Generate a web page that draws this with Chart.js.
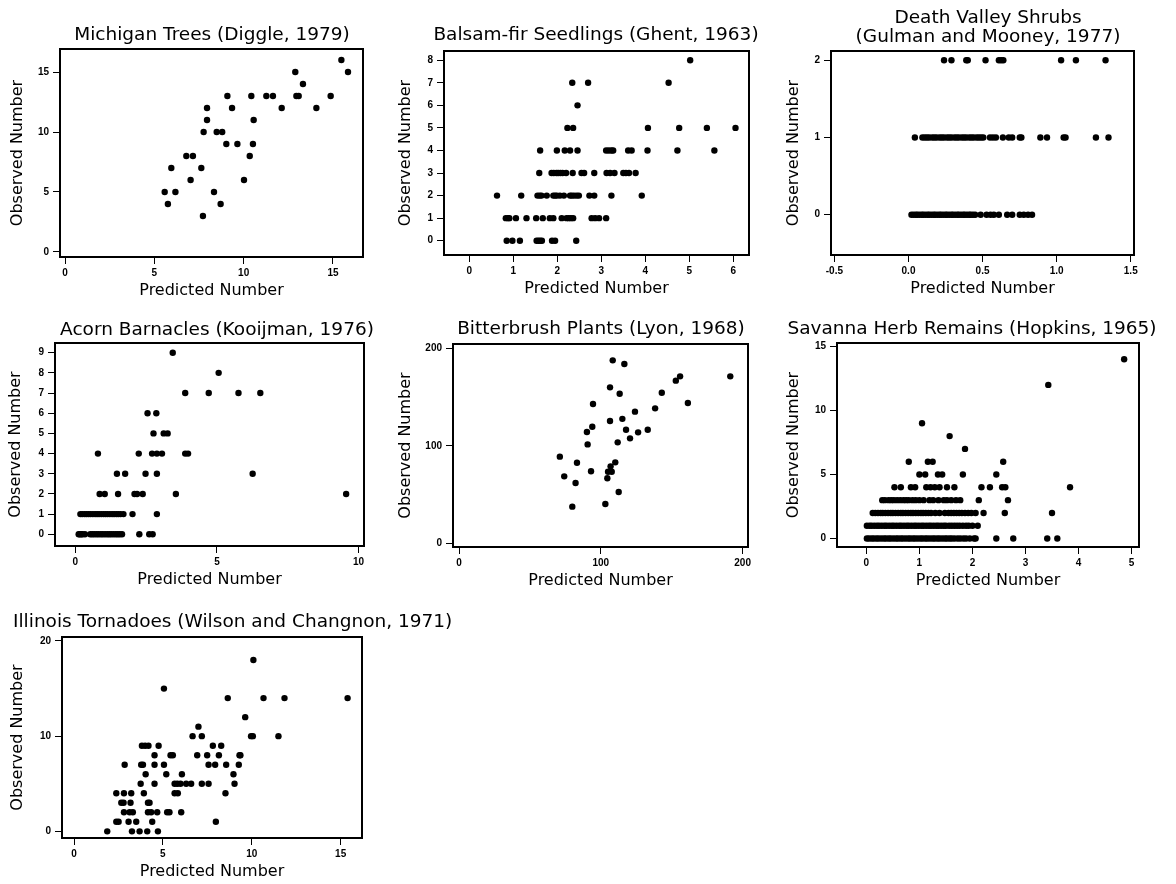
<!DOCTYPE html>
<html>
<head>
<meta charset="utf-8">
<script src="https://cdn.jsdelivr.net/npm/chart.js@4.4.1/dist/chart.umd.min.js"></script>
<style>
  html, body { margin:0; padding:0; background:#fff; width:1176px; height:884px; overflow:hidden; position:relative; }
  canvas { position:absolute; }
</style>
</head>
<body>
<script>
/* ---------- data ---------- */

// Michigan Trees: observed levels and predicted values at each level
const michiganObs = [3, 4, 5, 6, 7, 8, 9, 10, 11, 12, 13, 14, 15, 16];
const michiganPred = [
  [7.72], [5.76, 8.71], [5.58, 6.18, 8.34], [7.03, 10.02], [5.95, 7.63],
  [6.79, 7.16, 10.34], [9.03, 9.65, 10.52], [7.76, 8.49, 8.8], [7.95, 10.56],
  [7.95, 9.35, 12.13, 14.07], [9.09, 10.43, 11.27, 11.64, 12.95, 13.08, 14.87],
  [13.32], [12.89, 15.84], [15.47]
];
const michiganXTicks = [0, 5, 10, 15];
const michiganYTicks = [0, 5, 10, 15];

// Balsam-fir Seedlings
const balsamObs = [0, 1, 2, 3, 4, 5, 6, 7, 8];
const balsamPred = [
  [0.85, 0.98, 1.15, 1.53, 1.57, 1.61, 1.65, 1.88, 1.95, 2.43],
  [0.83, 0.88, 0.91, 1.06, 1.30, 1.52, 1.67, 1.83, 1.91, 2.1, 2.21, 2.26, 2.31, 2.36, 2.78, 2.86, 2.95, 3.11],
  [0.63, 1.18, 1.55, 1.6, 1.64, 1.76, 1.91, 1.95, 1.99, 2.06, 2.15, 2.29, 2.33, 2.38, 2.44, 2.49, 2.73, 2.84, 3.23, 3.92],
  [1.59, 1.87, 1.92, 1.98, 2.02, 2.07, 2.12, 2.2, 2.35, 2.55, 2.61, 2.84, 3.12, 3.2, 3.3, 3.5, 3.56, 3.63, 3.78],
  [1.61, 1.99, 2.17, 2.29, 2.46, 3.11, 3.17, 3.23, 3.27, 3.61, 3.69, 4.05, 4.73, 5.57],
  [2.23, 2.36, 4.06, 4.77, 5.40, 6.05],
  [2.46],
  [2.34, 2.70, 4.53],
  [5.02]
];
const balsamXTicks = [0, 1, 2, 3, 4, 5, 6];
const balsamYTicks = [0, 1, 2, 3, 4, 5, 6, 7, 8];

// Death Valley Shrubs
const shrubsObs = [0, 1, 2];
const shrubsPred = [
  [0.02, 0.035, 0.05, 0.06, 0.075, 0.09, 0.1, 0.115, 0.13, 0.14, 0.155, 0.17, 0.18, 0.195, 0.21, 0.22,
   0.235, 0.25, 0.26, 0.275, 0.29, 0.3, 0.315, 0.33, 0.34, 0.355, 0.37, 0.38, 0.395, 0.41, 0.42, 0.435,
   0.45, 0.487, 0.527, 0.554, 0.576, 0.61, 0.666, 0.70, 0.751, 0.778, 0.807, 0.834],
  [0.043, 0.094, 0.11, 0.125, 0.14, 0.16, 0.175, 0.19, 0.21, 0.225, 0.24, 0.26, 0.275, 0.29, 0.31, 0.325,
   0.34, 0.36, 0.375, 0.39, 0.41, 0.425, 0.44, 0.46, 0.475, 0.49, 0.505, 0.55, 0.57, 0.59, 0.637, 0.677,
   0.70, 0.751, 0.762, 0.89, 0.935, 1.047, 1.06, 1.265, 1.35],
  [0.24, 0.29, 0.39, 0.40, 0.52, 0.61, 0.625, 0.64, 1.03, 1.13, 1.33]
];
const shrubsXTicks = [-0.5, 0, 0.5, 1, 1.5];
const shrubsXLabels = ['-0.5', '0.0', '0.5', '1.0', '1.5'];
const shrubsYTicks = [0, 1, 2];

// Acorn Barnacles
const acornObs = [0, 1, 2, 3, 4, 5, 6, 7, 8, 9];
const acornPred = [
  [0.12, 0.16, 0.21, 0.25, 0.34, 0.53, 0.6, 0.67, 0.75, 0.82, 0.9, 0.97, 1.05, 1.13, 1.2, 1.27, 1.35, 1.43, 1.5, 1.57, 1.65, 2.26, 2.61, 2.73],
  [0.18, 0.25, 0.33, 0.4, 0.47, 0.54, 0.62, 0.7, 0.77, 0.84, 0.92, 1.0, 1.07, 1.14, 1.22, 1.3, 1.37, 1.45, 1.52, 1.6, 1.7, 2.02, 2.88],
  [0.86, 1.04, 1.51, 2.09, 2.18, 2.38, 3.55, 9.56],
  [1.47, 1.76, 2.48, 2.88, 6.26],
  [0.8, 2.24, 2.71, 2.88, 3.06, 3.88, 3.98],
  [2.76, 3.12, 3.26],
  [2.55, 2.86],
  [3.88, 4.71, 5.76, 6.53],
  [5.06],
  [3.44]
];
const acornXTicks = [0, 5, 10];
const acornYTicks = [0, 1, 2, 3, 4, 5, 6, 7, 8, 9];

// Bitterbrush Plants (not integer counts, so plain pairs)
const bitterPred = [71.1, 74.2, 79.9, 82.2, 83.2, 90.2, 90.7, 93.1, 94.0, 94.5, 103.2, 104.6, 105.1, 106.5, 106.5,
  106.9, 107.7, 108.4, 110.2, 111.9, 112.6, 113.3, 115.2, 116.6, 117.8, 120.6, 124.1, 126.3, 133.1, 138.3,
  143.0, 152.9, 155.9, 161.4, 191.3];
const bitterObs = [88.9, 68.6, 37.4, 61.7, 82.6, 114.2, 101.5, 73.8, 119.7, 143.1, 40.1, 66.6, 73.4, 160.2, 125.6,
  78.9, 73.4, 188.0, 83.0, 103.6, 52.5, 153.6, 127.8, 184.2, 116.6, 107.7, 135.2, 113.9, 116.6, 138.6,
  154.7, 167.1, 171.5, 144.1, 171.5];
const bitterXTicks = [0, 100, 200];
const bitterYTicks = [0, 100, 200];

// Savanna Herb Remains
const savannaObs = [0, 1, 2, 3, 4, 5, 6, 7, 8, 9, 12, 14];
const savannaPred = [
  [0.01, 0.05, 0.1, 0.14, 0.19, 0.23, 0.28, 0.33, 0.37, 0.42, 0.46, 0.51, 0.56, 0.6, 0.65, 0.69, 0.74, 0.79,
   0.83, 0.88, 0.92, 0.97, 1.02, 1.06, 1.11, 1.15, 1.2, 1.25, 1.29, 1.34, 1.38, 1.43, 1.48, 1.52, 1.57, 1.61,
   1.66, 1.72, 1.77, 1.83, 1.88, 1.95, 2.03, 2.06, 2.45, 2.77, 3.41, 3.6],
  [0.01, 0.06, 0.1, 0.15, 0.2, 0.24, 0.29, 0.34, 0.38, 0.43, 0.48, 0.52, 0.57, 0.62, 0.66, 0.71, 0.76, 0.8,
   0.85, 0.9, 0.94, 0.99, 1.04, 1.08, 1.13, 1.18, 1.22, 1.27, 1.32, 1.36, 1.41, 1.46, 1.5, 1.56, 1.61, 1.66,
   1.71, 1.76, 1.82, 1.88, 1.93, 2.0, 2.1],
  [0.12, 0.17, 0.22, 0.27, 0.31, 0.36, 0.41, 0.46, 0.5, 0.55, 0.6, 0.65, 0.69, 0.74, 0.79, 0.84, 0.88, 0.93,
   0.98, 1.03, 1.07, 1.12, 1.17, 1.22, 1.3, 1.38, 1.48, 1.55, 1.6, 1.65, 1.7, 1.75, 1.8, 1.86, 1.92, 1.98,
   2.06, 2.21, 2.61, 3.5],
  [0.3, 0.35, 0.42, 0.47, 0.52, 0.58, 0.64, 0.7, 0.75, 0.8, 0.87, 0.93, 1.0, 1.08, 1.19, 1.26, 1.36, 1.46,
   1.52, 1.6, 1.69, 1.77, 2.12, 2.67],
  [0.53, 0.65, 0.84, 0.92, 1.13, 1.21, 1.29, 1.38, 1.52, 1.66, 2.17, 2.33, 2.56, 2.62, 3.84],
  [1.0, 1.11, 1.35, 1.43, 1.82, 2.45],
  [0.80, 1.16, 1.25, 2.58],
  [1.86],
  [1.57],
  [1.05],
  [3.43],
  [4.86]
];
const savannaXTicks = [0, 1, 2, 3, 4, 5];
const savannaYTicks = [0, 5, 10, 15];

// Illinois Tornadoes
const tornadoObs = [0, 1, 2, 3, 4, 5, 6, 7, 8, 9, 10, 11, 12, 14, 15, 18];
const tornadoPred = [
  [1.87, 3.26, 3.69, 4.12, 4.72],
  [2.38, 2.51, 3.07, 3.5, 4.4, 7.98],
  [2.81, 3.13, 3.31, 4.16, 4.34, 4.68, 5.24, 5.37, 6.03],
  [2.66, 2.79, 3.18, 4.16, 4.25],
  [2.38, 2.81, 3.22, 3.93, 5.66, 5.84, 8.52],
  [3.75, 4.53, 5.66, 5.81, 5.99, 6.31, 6.59, 7.19, 7.57, 9.03],
  [4.03, 5.19, 6.07, 8.97],
  [2.85, 3.78, 3.88, 4.53, 5.06, 7.57, 7.94, 8.56, 9.27],
  [4.53, 5.43, 5.56, 6.93, 7.49, 8.15, 9.31, 9.36],
  [3.82, 4.0, 4.19, 4.76, 7.81, 8.28],
  [6.67, 7.19, 9.96, 10.06, 11.5],
  [7.0],
  [9.63],
  [8.65, 10.66, 11.84, 15.39],
  [5.06],
  [10.09]
];
const tornadoXTicks = [0, 5, 10, 15];
const tornadoYTicks = [0, 10, 20];

/* ---------- helpers ---------- */
function rowsToPoints(obs, pred) {
  const pts = [];
  obs.forEach((o, i) => pred[i].forEach(p => pts.push({ x: p, y: o })));
  return pts;
}
function pairsToPoints(xs, ys) {
  return xs.map((x, i) => ({ x: x, y: ys[i] }));
}

Chart.defaults.font.family = "'DejaVu Sans', Verdana, sans-serif";
Chart.defaults.color = '#000';

// plot boxes in page pixels [left, top, right, bottom] + title placement
const panels = [
  { title: ['Michigan Trees (Diggle, 1979)'], titleX: 212, titleY: [35], box: [60, 49, 363, 257], yTitleX: 17.5,
    x: [-0.28, 16.68], y: [-0.42, 16.92], xTicks: michiganXTicks, yTicks: michiganYTicks,
    points: rowsToPoints(michiganObs, michiganPred) },
  { title: ['Balsam-fir Seedlings (Ghent, 1963)'], titleX: 596, titleY: [35], box: [444, 51, 749, 255], yTitleX: 405.7,
    x: [-0.575, 6.357], y: [-0.634, 8.41], xTicks: balsamXTicks, yTicks: balsamYTicks,
    points: rowsToPoints(balsamObs, balsamPred) },
  { title: ['Death Valley Shrubs', '(Gulman and Mooney, 1977)'], titleX: 988, titleY: [18, 37], box: [831, 51, 1134, 255], yTitleX: 794,
    x: [-0.523, 1.522], y: [-0.522, 2.12], xTicks: shrubsXTicks, xLabels: shrubsXLabels, yTicks: shrubsYTicks,
    points: rowsToPoints(shrubsObs, shrubsPred) },
  { title: ['Acorn Barnacles (Kooijman, 1976)'], titleX: 217, titleY: [330], box: [55, 343, 364, 546], yTitleX: 16.3,
    x: [-0.716, 10.19], y: [-0.58, 9.48], xTicks: acornXTicks, yTicks: acornYTicks,
    points: rowsToPoints(acornObs, acornPred) },
  { title: ['Bitterbrush Plants (Lyon, 1968)'], titleX: 601, titleY: [329], box: [453, 344, 748, 547], yTitleX: 405.5,
    x: [-4.24, 203.8], y: [-4.1, 204.8], xTicks: bitterXTicks, yTicks: bitterYTicks,
    points: pairsToPoints(bitterPred, bitterObs) },
  { title: ['Savanna Herb Remains (Hopkins, 1965)'], titleX: 972, titleY: [329], box: [837, 343, 1139, 547], yTitleX: 794.2,
    x: [-0.553, 5.14], y: [-0.66, 15.27], xTicks: savannaXTicks, yTicks: savannaYTicks,
    points: rowsToPoints(savannaObs, savannaPred) },
  { title: ['Illinois Tornadoes (Wilson and Changnon, 1971)'], titleX: 13, titleAlign: 'left', titleY: [622], box: [62, 637, 362, 838], yTitleX: 18.3,
    padRight: 140,
    x: [-0.675, 16.2], y: [-0.70, 20.42], xTicks: tornadoXTicks, yTicks: tornadoYTicks,
    points: rowsToPoints(tornadoObs, tornadoPred) }
];

const PAD_TOP = 60, PAD_RIGHT = 30, YAXIS_W = 60, XAXIS_H = 50;

const boxPlugin = {
  id: 'boxAndTitle',
  afterDraw(chart, args, opts) {
    const { ctx, chartArea } = chart;
    ctx.save();
    ctx.strokeStyle = '#000';
    ctx.lineWidth = 2;
    ctx.strokeRect(chartArea.left, chartArea.top, chartArea.right - chartArea.left, chartArea.bottom - chartArea.top);
    ctx.fillStyle = '#000';
    ctx.font = "18.5px 'DejaVu Sans', Verdana, sans-serif";
    ctx.textAlign = opts.align;
    ctx.textBaseline = 'middle';
    opts.lines.forEach((t, i) => ctx.fillText(t, opts.x, opts.ys[i]));
    ctx.restore();
  }
};

panels.forEach(p => {
  const [l, t, r, b] = p.box;
  const padRight = p.padRight || PAD_RIGHT;
  const left = l - YAXIS_W, top = t - PAD_TOP;
  const w = (r - l) + YAXIS_W + padRight, h = (b - t) + PAD_TOP + XAXIS_H;
  const cv = document.createElement('canvas');
  cv.width = w; cv.height = h;
  cv.style.left = left + 'px'; cv.style.top = top + 'px';
  cv.style.width = w + 'px'; cv.style.height = h + 'px';
  document.body.appendChild(cv);

  const tickFont = { family: "'Liberation Sans', Arial, sans-serif", size: 10, weight: 'bold' };

  new Chart(cv, {
    type: 'scatter',
    plugins: [boxPlugin],
    data: {
      datasets: [{
        data: p.points,
        backgroundColor: '#000',
        borderWidth: 0,
        pointRadius: 3.2,
        pointHoverRadius: 3.2
      }]
    },
    options: {
      responsive: false,
      animation: false,
      events: [],
      layout: { padding: { top: PAD_TOP, right: padRight, left: 0, bottom: 0 } },
      plugins: {
        legend: { display: false },
        tooltip: { enabled: false },
        boxAndTitle: {
          lines: p.title,
          x: p.titleX - left,
          ys: p.titleY.map(v => v - top),
          align: p.titleAlign || 'center'
        }
      },
      scales: {
        x: {
          type: 'linear',
          min: p.x[0], max: p.x[1],
          border: { display: false },
          grid: { drawOnChartArea: false, drawTicks: true, tickLength: 7, color: '#000', lineWidth: 1 },
          ticks: {
            font: tickFont, color: '#000', padding: 3, maxRotation: 0, autoSkip: false,
            callback: (v) => {
              const i = p.xTicks.indexOf(v);
              return p.xLabels && i >= 0 ? p.xLabels[i] : String(v);
            }
          },
          afterBuildTicks: s => { s.ticks = p.xTicks.map(v => ({ value: v })); },
          afterFit: s => { s.height = XAXIS_H; },
          title: { display: true, text: 'Predicted Number', color: '#000', font: { size: 16 }, padding: { top: 0, bottom: 7 } }
        },
        y: {
          type: 'linear',
          min: p.y[0], max: p.y[1],
          border: { display: false },
          grid: { drawOnChartArea: false, drawTicks: true, tickLength: 7, color: '#000', lineWidth: 1 },
          ticks: { font: tickFont, color: '#000', padding: 4, autoSkip: false },
          afterBuildTicks: s => { s.ticks = p.yTicks.map(v => ({ value: v })); },
          afterFit: s => { s.width = YAXIS_W; },
          title: { display: true, text: 'Observed Number', color: '#000', font: { size: 16 },
                   padding: { top: (p.yTitleX - left) - 9.6, bottom: 0 } }
        }
      }
    }
  });
});
</script>
</body>
</html>
